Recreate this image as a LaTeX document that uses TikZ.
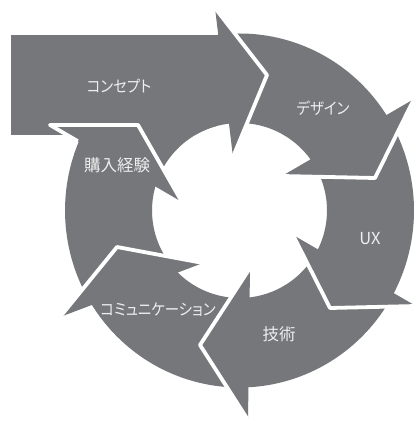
\documentclass[tikz,border=0pt]{standalone}
\usepackage{fontspec}
\setmainfont{Noto Sans CJK JP}[RawFeature=+palt]
\newfontfamily\katafont{Noto Sans CJK JP}[RawFeature=+palt,FakeStretch=0.9]
\usetikzlibrary{calc}
\definecolor{arrowgray}{RGB}{118,119,123}
\definecolor{labelwhite}{RGB}{238,238,238}
\newcommand\myringseg[4]{%
  \fill[arrbody] ($(C)+(#1:\rx\space and \ry)$)
    arc[start angle=#1,end angle=#3,x radius=\rx,y radius=\ry]
    -- ($(C)+(#4:\ri)$)
    arc[start angle=#4,end angle=#2,radius=\ri] -- cycle;}
\begin{document}
\begin{tikzpicture}[x=1pt,y=1pt,
  arrbody/.style={fill=arrowgray},
  arrhead/.style={fill=arrowgray},
  gapline/.style={draw=white,line width=3.8pt,line join=round},
  lbl/.style={text=labelwhite,font=\fontsize{16.5}{16.5}\selectfont,inner sep=0pt},
  katalbl/.style={text=labelwhite,font=\katafont\fontsize{16}{16}\selectfont,inner sep=0pt}]
\useasboundingbox (0,0) rectangle (414,-422);
\fill[white] (0,0) rectangle (414,-422);
\coordinate (C) at (239.5,-210.5);
\def\rx{174.5}\def\ry{177}\def\ri{87.5}
% straight body of the concept arrow
\fill[arrbody] (11,-35) rectangle (218,-135);
\fill[white] (C) circle[radius=\ri];
% ring bodies
\myringseg{153.8}{157.6}{94}{91}
\myringseg{94}{91}{29.6}{31}
\myringseg{29.6}{31}{-30.8}{-32.4}
\myringseg{-30.8}{-32.4}{-90.5}{-89.5}
\myringseg{-90.5}{-89.5}{-150.3}{-141.8}
\myringseg{209.7}{218.2}{153.8}{157.6}
% heads
\coordinate (aOB) at (215,-8);   \coordinate (aT) at (267,-75);  \coordinate (aIB) at (233,-157);
\coordinate (bOB) at (414,-99);  \coordinate (bT) at (375,-178); \coordinate (bIB) at (282,-176);
\coordinate (cOB) at (416,-306); \coordinate (cT) at (330,-308); \coordinate (cIB) at (293,-235);
\coordinate (dOB) at (248,-420); \coordinate (dT) at (200,-345); \coordinate (dIB) at (250,-268);
\coordinate (eOB) at (60,-317);  \coordinate (eT) at (117,-247); \coordinate (eIB) at (203,-263);
\coordinate (fOB) at (50,-125);  \coordinate (fT) at (138,-125); \coordinate (fIB) at (182,-202);
\foreach \h in {a,b,c,d,e,f}{
  \fill[arrhead] (\h OB) -- (\h T) -- (\h IB) -- cycle;
  \draw[gapline] (\h OB) -- (\h T) -- (\h IB);
}
\draw[gapline] ($(fOB)!0.21!(fIB)$) -- (fOB) -- (fT);
% labels
\node[katalbl] (lConcept) at (119,-86) {コンセプト};
\node[katalbl] (lDesign) at (323,-108) {デザイン};
\node[lbl] (lUX) at (370,-239) {UX};
\node[lbl] (lTech) at (279,-334) {技術};
\node[katalbl] (lComm) at (158,-310) {コミュニケーション};
\node[lbl] (lBuy) at (117,-165) {購入経験};
\end{tikzpicture}
\end{document}
